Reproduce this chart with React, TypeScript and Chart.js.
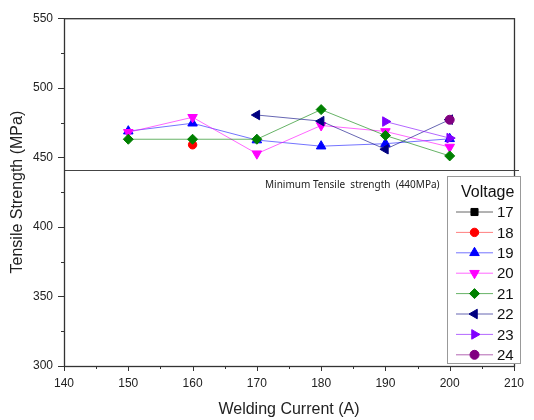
import React, { useEffect, useRef } from 'react';
import { Chart, registerables } from 'chart.js';
import { drawPoint } from 'chart.js/helpers';

Chart.register(...registerables);

// ---- data ----
const currents = [150, 160, 170, 180, 190, 200];
const voltages = ['17', '18', '19', '20', '21', '22', '23', '24'];
const v17: (number | null)[] = [null, null, null, null, null, null];
const v18: (number | null)[] = [null, 459, null, null, null, null];
const v19: (number | null)[] = [468.8, 474.5, 462.4, 458, 459.8, 463.3];
const v20: (number | null)[] = [468, 478.8, 452.6, 472.9, 468.6, 457.4];
const v21: (number | null)[] = [463, 463, 463, 484.3, 465.7, 451];
const v22: (number | null)[] = [null, null, 480.4, 476, 455.8, 477.1];
const v23: (number | null)[] = [null, null, null, null, 475.7, 463.8];
const v24: (number | null)[] = [null, null, null, null, null, 477];
const seriesValues = [v17, v18, v19, v20, v21, v22, v23, v24];
const xTickValues = [140, 150, 160, 170, 180, 190, 200, 210];
const yTickValues = [300, 350, 400, 450, 500, 550];
const minStrength = 441;
const minLabel = 'Minimum Tensile  strength  (440MPa)';

// ---- styles ----
const colors = ['#000000', '#ff0000', '#0000ff', '#ff00ff', '#008000', '#000080', '#8000ff', '#800080'];
const lineColors = [
  'rgba(0,0,0,0.6)', 'rgba(255,0,0,0.5)', 'rgba(0,0,255,0.55)', 'rgba(255,0,255,0.6)',
  'rgba(0,128,0,0.6)', 'rgba(0,0,128,0.6)', 'rgba(128,0,255,0.6)', 'rgba(128,0,128,0.6)',
];
const pointStyles: any[] = ['rect', 'circle', 'triangle', 'triangle', 'rectRot', 'triangle', 'triangle', 'circle'];
const rotations = [0, 0, 0, 180, 0, -90, 90, 0];
const radii = [5, 4.2, 5.5, 5.5, 5, 5.5, 5.5, 4.5];

const FONT = '"Liberation Sans", Arial, sans-serif';

const decorPlugin = {
  id: 'decor',
  beforeDatasetsDraw(chart: any) {
    const { ctx, chartArea, scales } = chart;
    const y = scales.y.getPixelForValue(minStrength);
    ctx.save();
    ctx.strokeStyle = '#444';
    ctx.lineWidth = 1;
    ctx.beginPath();
    ctx.moveTo(chartArea.left, Math.round(y) + 0.5);
    ctx.lineTo(chartArea.right + 5, Math.round(y) + 0.5);
    ctx.stroke();
    ctx.fillStyle = '#222';
    ctx.font = '10px "Noto Sans", sans-serif';
    ctx.textAlign = 'left';
    ctx.textBaseline = 'middle';
    ctx.fillText(minLabel, 265, y + 15);
    ctx.restore();
  },
  afterDraw(chart: any) {
    const { ctx, chartArea, scales } = chart;
    const { left, right, top, bottom } = chartArea;
    ctx.save();
    ctx.strokeStyle = '#333';
    ctx.lineWidth = 1.3;
    ctx.strokeRect(left + 0.5, top + 0.5, right - left, bottom - top);
    ctx.lineWidth = 1;
    ctx.beginPath();
    const xs = scales.x;
    for (let v = xTickValues[0]; v <= xTickValues[xTickValues.length - 1]; v += 5) {
      const px = Math.round(xs.getPixelForValue(v)) + 0.5;
      const len = v % 10 === 0 ? 5 : 3;
      ctx.moveTo(px, bottom);
      ctx.lineTo(px, bottom + len);
    }
    const ys = scales.y;
    for (let v = yTickValues[0]; v <= yTickValues[yTickValues.length - 1]; v += 25) {
      const py = Math.round(ys.getPixelForValue(v)) + 0.5;
      const len = v % 50 === 0 ? 6 : 3;
      ctx.moveTo(left - len, py);
      ctx.lineTo(left, py);
    }
    ctx.stroke();

    // legend
    const bx = 447, by = 176, bw = 73, bh = 187;
    ctx.fillStyle = '#fff';
    ctx.fillRect(bx, by, bw, bh);
    ctx.strokeStyle = '#999';
    ctx.lineWidth = 1;
    ctx.strokeRect(bx + 0.5, by + 0.5, bw, bh);
    ctx.fillStyle = '#111';
    ctx.font = '16px ' + FONT;
    ctx.textBaseline = 'middle';
    ctx.textAlign = 'left';
    ctx.fillText('Voltage', 461, 193);
    ctx.font = '15px ' + FONT;
    voltages.forEach((lab, i) => {
      const cy = 212 + i * 20.4;
      ctx.strokeStyle = lineColors[i];
      ctx.lineWidth = 1;
      ctx.beginPath();
      ctx.moveTo(456, cy);
      ctx.lineTo(493, cy);
      ctx.stroke();
      ctx.fillStyle = colors[i];
      ctx.strokeStyle = colors[i];
      drawPoint(ctx, { pointStyle: pointStyles[i], rotation: rotations[i], radius: radii[i], borderWidth: 1 } as any, 474.5, cy);
      ctx.fillStyle = '#111';
      ctx.fillText(lab, 497, cy + 1);
    });
    ctx.restore();
  },
};

export default function App() {
  const ref = useRef<HTMLCanvasElement>(null);
  useEffect(() => {
    if (!ref.current) return;
    const datasets = seriesValues.map((vals, i) => ({
      label: voltages[i],
      data: currents.map((c, j) => ({ x: c, y: vals[j] })),
      borderColor: lineColors[i],
      backgroundColor: colors[i],
      pointBackgroundColor: colors[i],
      pointBorderColor: colors[i],
      pointStyle: pointStyles[i],
      pointRotation: rotations[i],
      pointRadius: radii[i],
      pointBorderWidth: 1,
      borderWidth: 1,
      showLine: true,
      spanGaps: false,
      order: -i,
    }));
    const chart = new Chart(ref.current, {
      type: 'line',
      data: { datasets },
      options: {
        animation: false,
        responsive: false,
        devicePixelRatio: 1,
        layout: { padding: { top: 15, right: 12, left: 0, bottom: 0 } },
        plugins: { legend: { display: false }, tooltip: { enabled: false } },
        scales: {
          x: {
            type: 'linear',
            min: 140,
            max: 210,
            afterBuildTicks: (s: any) => { s.ticks = xTickValues.map((v) => ({ value: v })); },
            afterFit: (s: any) => { s.height = 54; },
            grid: { display: false, drawTicks: false },
            border: { display: false },
            ticks: { color: '#222', font: { family: FONT, size: 12 }, padding: 10, maxRotation: 0, autoSkip: false },
            title: { display: true, text: 'Welding Current (A)', color: '#222', font: { family: FONT, size: 16 }, padding: { top: 0, bottom: 1 } },
          },
          y: {
            type: 'linear',
            min: 300,
            max: 550,
            afterBuildTicks: (s: any) => { s.ticks = yTickValues.map((v) => ({ value: v })); },
            afterFit: (s: any) => { s.width = 64; },
            grid: { display: false, drawTicks: false },
            border: { display: false },
            ticks: { color: '#222', font: { family: FONT, size: 12 }, padding: 11, autoSkip: false },
            title: { display: true, text: 'Tensile Strength (MPa)', color: '#222', font: { family: FONT, size: 16 }, padding: { top: 8, bottom: 0 } },
          },
        },
      } as any,
      plugins: [decorPlugin],
    });
    return () => chart.destroy();
  }, []);
  return (
    <div style={{ position: 'absolute', left: 0, top: 0, width: 534, height: 420, background: '#fff' }}>
      <canvas ref={ref} width={534} height={420} />
    </div>
  );
}
